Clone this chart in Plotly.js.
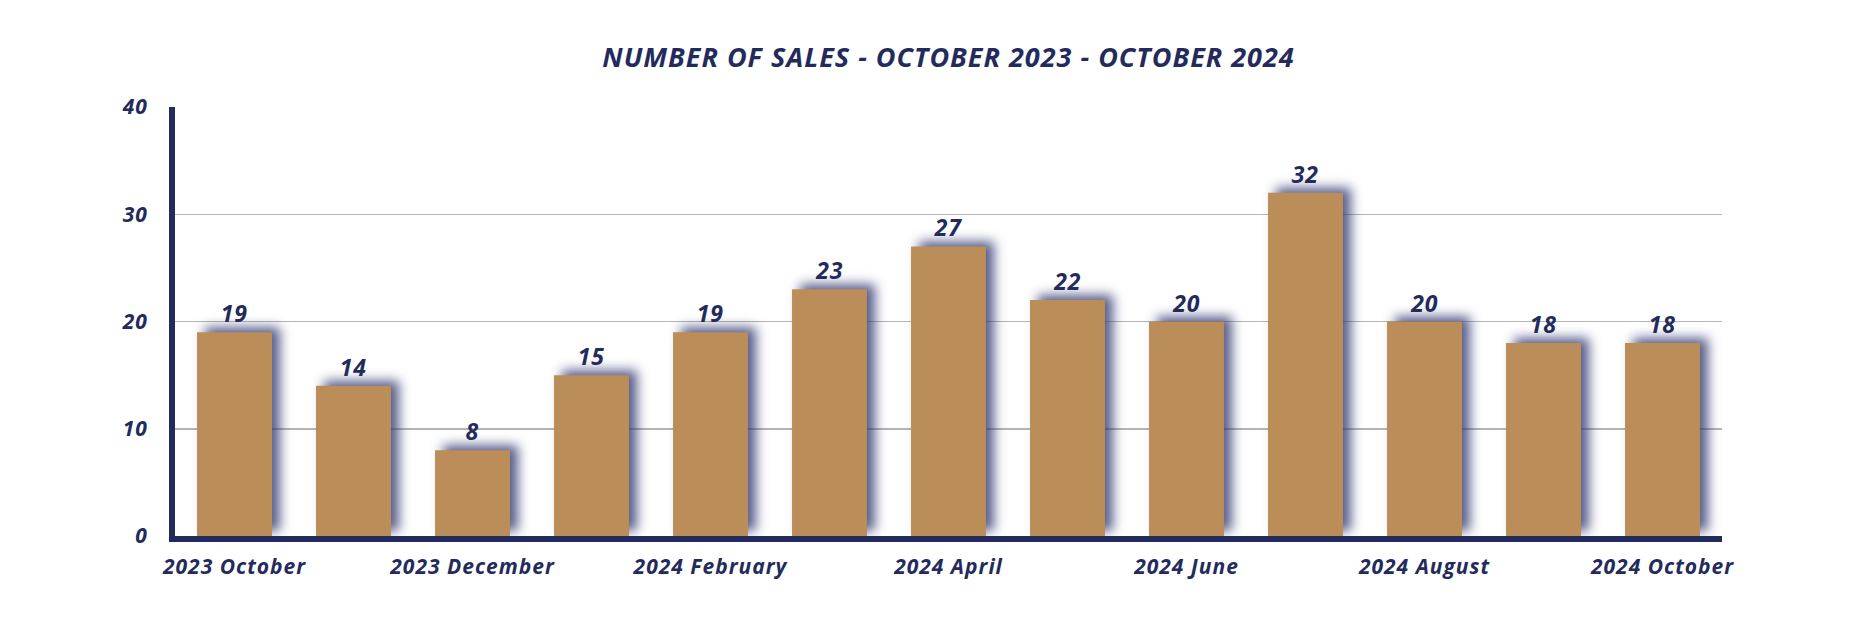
<!DOCTYPE html>
<html>
<head>
<meta charset="utf-8">
<script src="https://cdn.plot.ly/plotly-3.0.1.min.js"></script>
<style>
  html, body { margin: 0; padding: 0; background: #ffffff; }
  #chart { width: 1858px; height: 642px; }
  .js-plotly-plot .barlayer .point path {
    filter: drop-shadow(8px -5px 6px rgba(45, 52, 110, 0.8));
  }
  .js-plotly-plot text { letter-spacing: 1px; }
</style>
</head>
<body>
<div id="chart"></div>
<script>
const categories = [
  "2023 October", "2023 November", "2023 December", "2024 January",
  "2024 February", "2024 March", "2024 April", "2024 May",
  "2024 June", "2024 July", "2024 August", "2024 September", "2024 October"
];
const sales = [19, 14, 8, 15, 19, 23, 27, 22, 20, 32, 20, 18, 18];
const yTicks = [0, 10, 20, 30, 40];
const xTickLabels = categories.filter((c, i) => i % 2 === 0);

const navy = "#232a5c";
const gold = "#bb8e59";
const fontFamily = "'Open Sans', Lato, sans-serif";

const trace = {
  type: "bar",
  x: categories,
  y: sales,
  marker: { color: gold, line: { width: 0 } },
  text: sales.map(String),
  textposition: "outside",
  cliponaxis: false,
  textfont: { family: fontFamily, size: 23, color: navy, weight: 700, style: "italic" },
  hoverinfo: "x+y"
};

const layout = {
  width: 1858,
  height: 642,
  paper_bgcolor: "#ffffff",
  plot_bgcolor: "#ffffff",
  margin: { l: 175, r: 136, t: 107, b: 106 },
  bargap: 0.37,
  showlegend: false,
  title: {
    text: "NUMBER OF SALES - OCTOBER 2023 - OCTOBER 2024",
    font: { family: fontFamily, size: 27, color: navy, weight: 700, style: "italic" },
    x: 0.5, xref: "paper", xanchor: "center",
    y: 0.911, yref: "container", yanchor: "middle"
  },
  xaxis: {
    type: "category",
    tickmode: "array",
    tickvals: xTickLabels,
    ticktext: xTickLabels,
    showline: true,
    linecolor: navy,
    linewidth: 6,
    ticks: "",
    showgrid: false,
    ticklabelstandoff: 7,
    tickfont: { family: fontFamily, size: 21, color: navy, weight: 700, style: "italic" },
    fixedrange: true
  },
  yaxis: {
    range: [0, 40],
    tickmode: "array",
    tickvals: yTicks,
    ticktext: yTicks.map(String),
    showline: true,
    linecolor: navy,
    linewidth: 6,
    showgrid: true,
    gridcolor: "#b5b5b5",
    gridwidth: 1.5,
    zeroline: false,
    ticks: "",
    ticklabelstandoff: 17,
    tickfont: { family: fontFamily, size: 21, color: navy, weight: 700, style: "italic" },
    fixedrange: true
  }
};

Plotly.newPlot("chart", [trace], layout, { displayModeBar: false, staticPlot: true });
</script>
</body>
</html>
